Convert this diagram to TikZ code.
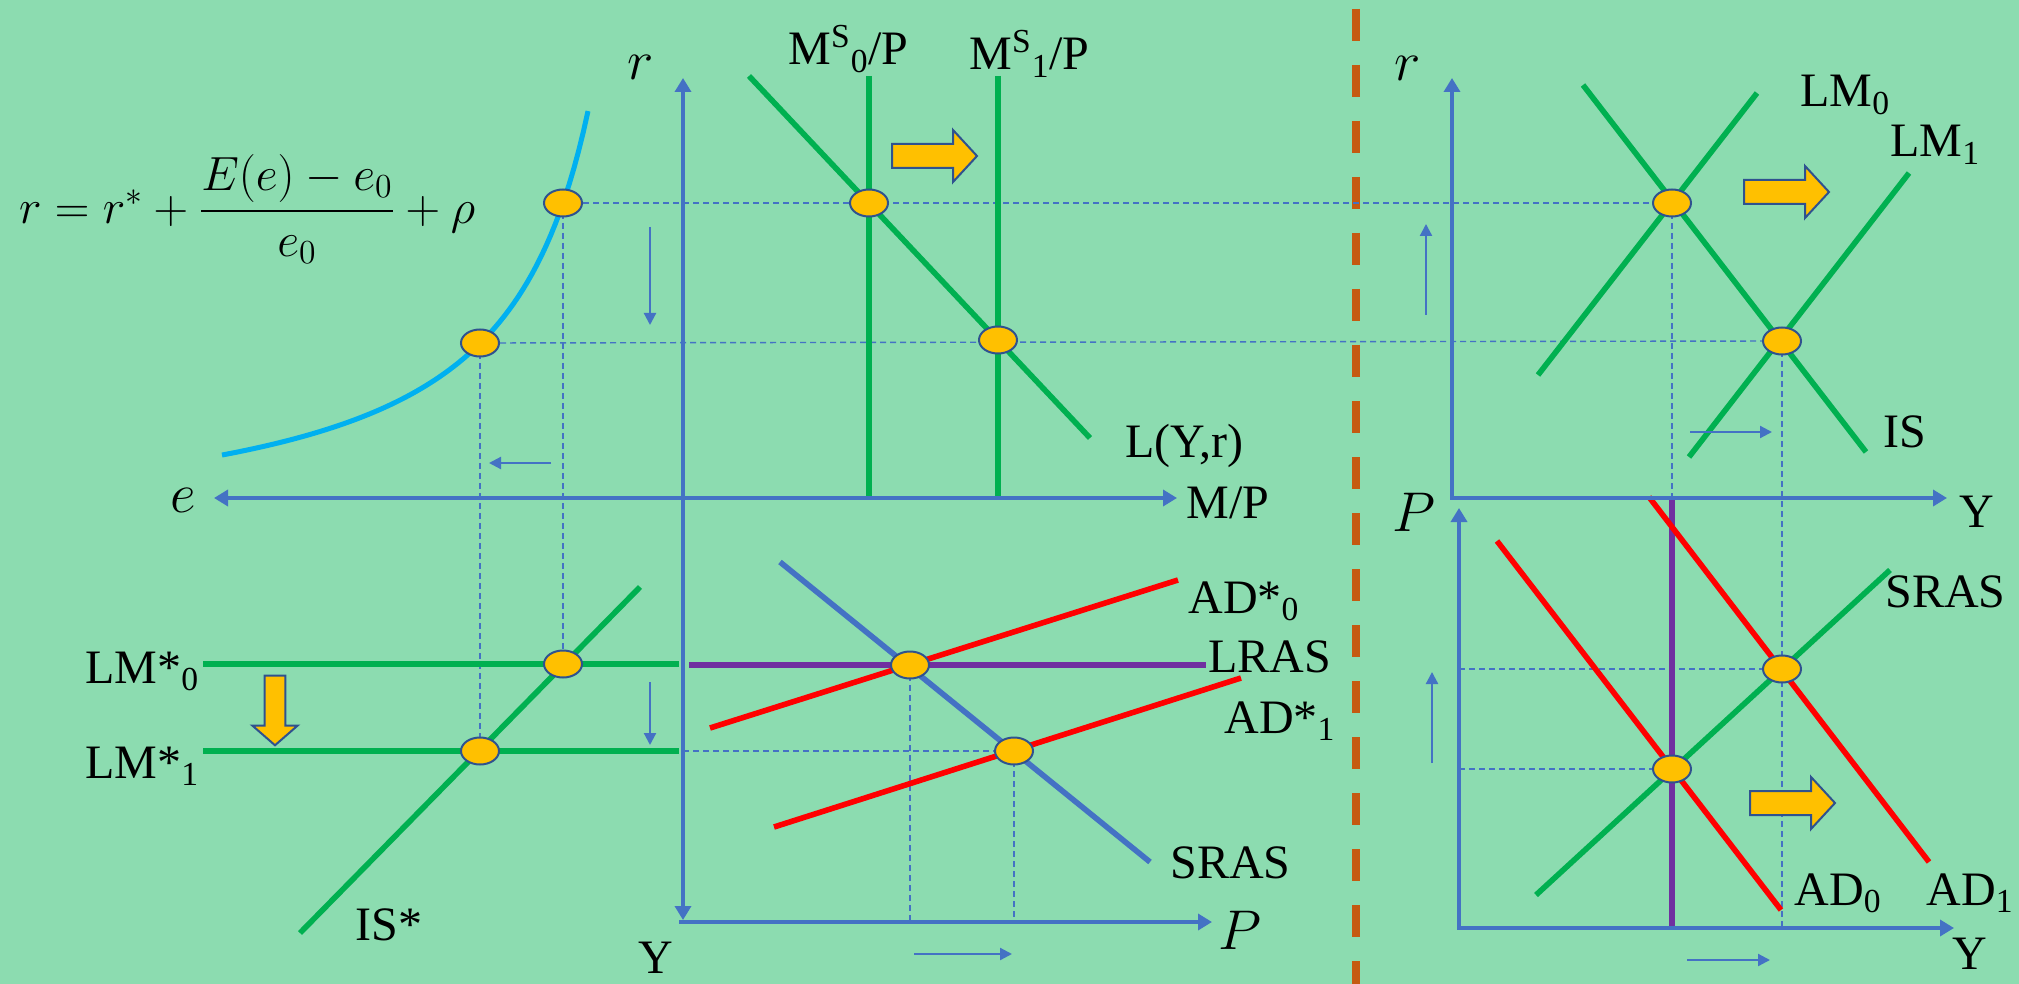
\RequirePackage{fix-cm}
\documentclass[tikz,border=0pt]{standalone}
\usepackage{amsmath}
\usepackage{fontspec}
\setmainfont{Liberation Serif}
\usetikzlibrary{arrows.meta,shapes.geometric}

\definecolor{lgreen}{HTML}{00B050}
\colorlet{bg}{lgreen!45!white}
\definecolor{axisblue}{HTML}{4472C4}
\definecolor{lred}{HTML}{FF0000}
\definecolor{lpurple}{HTML}{7030A0}
\definecolor{lcyan}{HTML}{00B0F0}
\definecolor{gold}{HTML}{FFC000}
\definecolor{rim}{HTML}{2F528F}
\definecolor{rust}{HTML}{C55A11}

\tikzset{
  axis/.style={axisblue, line width=2.2pt, -{Triangle[length=7pt,width=8pt]}},
  curve/.style={line width=2.8pt},
  guide/.style={axisblue, line width=0.7pt, dash pattern=on 3pt off 2pt},
  hint/.style={axisblue, line width=1.1pt, -{Triangle[length=6pt,width=6pt]}},
  dot/.style={ellipse, draw=rim, line width=1pt, fill=gold, minimum width=19pt, minimum height=13.5pt, inner sep=0pt},
  lbl/.style={anchor=base west, inner sep=0pt},
  mlbl/.style={font=\fontsize{28}{32}\selectfont},
  shiftarrow/.pic={\draw[rim, fill=gold, line width=1pt] (-42,-12) -- (19,-12) -- (19,-26) -- (43,0) -- (19,26) -- (19,12) -- (-42,12) -- cycle;}
}

\begin{document}
\begin{tikzpicture}[x=0.5pt, y=-0.5pt, font=\fontsize{24}{28}\selectfont]
    \fill[bg] (0,0) rectangle (2019,984);
    \useasboundingbox (0,0) rectangle (2019,984);

    % separator
    \draw[rust, line width=4pt, dash pattern=on 16pt off 12pt] (1356,9) -- (1356,984);

    % equilibrium points
    \coordinate (cE0) at (563,203);
    \coordinate (cE1) at (480,343);
    \coordinate (cM0) at (869,203);
    \coordinate (cM1) at (998,340);
    \coordinate (cL0) at (563,664);
    \coordinate (cL1) at (480,751);
    \coordinate (cA0) at (910,665);
    \coordinate (cA1) at (1014,751);
    \coordinate (cR0) at (1672,203);
    \coordinate (cR1) at (1782,341);
    \coordinate (cP0) at (1672,769);
    \coordinate (cP1) at (1782,669);

    % axis origins
    \coordinate (oL) at (683,498);
    \coordinate (oLB) at (683,922);
    \coordinate (oRT) at (1452,498);
    \coordinate (oRB) at (1459,928);

    % dashed guides
    \draw[guide] (cE0) -- (cR0);
    \draw[guide] (cE1) -- (cR1);
    \draw[guide] (cE0) -- (cL0);
    \draw[guide] (cE1) -- (cL1);
    \draw[guide] (oL |- cA1) -- (cA1);
    \draw[guide] (cA0) -- (cA0 |- oLB);
    \draw[guide] (cA1) -- (cA1 |- oLB);
    \draw[guide] (cR0) -- (cR0 |- oRT);
    \draw[guide] (cR1) -- (cR1 |- oRB);
    \draw[guide] (oRB |- cP1) -- (cP1);
    \draw[guide] (oRB |- cP0) -- (cP0);

    % left: interest parity curve
    \draw[lcyan, line width=2.5pt] plot[domain=222:588, samples=80] (\x, {541.5-396/((680-\x)/100)});

    % left: money market
    \draw[curve, lgreen] (869,76) -- (869,498);
    \draw[curve, lgreen] (998,76) -- (998,498);
    \draw[curve, lgreen] (749,76) -- (1090,438);

    % left: IS*-LM*
    \draw[curve, lgreen] (203,664) -- (679,664);
    \draw[curve, lgreen] (203,751) -- (679,751);
    \draw[curve, lgreen] (300,933) -- (640,587);

    % left: AD*-AS
    \draw[curve, lpurple] (689,665) -- (1206,665);
    \draw[curve, axisblue] (780,562) -- (1150,862);
    \draw[curve, lred] (710,728) -- (1178,580);
    \draw[curve, lred] (774,827) -- (1241,678);

    % right: IS-LM
    \draw[curve, lgreen] (1583,85) -- (1866,452);
    \draw[curve, lgreen] (1538,375) -- (1757,93);
    \draw[curve, lgreen] (1689,457) -- (1909,173);

    % right: AD-AS
    \draw[curve, lpurple] (1672,500) -- (1672,928);
    \draw[curve, lred] (1497,541) -- (1781,910);
    \draw[curve, lred] (1649,497) -- (1929,862);
    \draw[curve, lgreen] (1536,895) -- (1890,570);

    % axes
    \draw[axis] (oL) -- (683,78);
    \draw[axis] (oL) -- (683,920);
    \draw[axis] (679,922) -- (1212,922);
    \draw[axis, {Triangle[length=7pt,width=8pt]}-{Triangle[length=7pt,width=8pt]}] (214,498) -- (1177,498);
    \draw[axis] (oRT) -- (1452,78);
    \draw[axis] (1450,498) -- (1947,498);
    \draw[axis] (oRB) -- (1459,508);
    \draw[axis] (1457,928) -- (1954,928);

    % small direction arrows
    \draw[hint] (650,227) -- (650,325);
    \draw[hint] (551,463) -- (489,463);
    \draw[hint] (650,682) -- (650,745);
    \draw[hint] (914,954) -- (1012,954);
    \draw[hint] (1426,315) -- (1426,224);
    \draw[hint] (1690,432) -- (1772,432);
    \draw[hint] (1432,763) -- (1432,672);
    \draw[hint] (1687,960) -- (1770,960);

    % shift arrows
    \pic at (934,156) {shiftarrow};
    \pic at (1786,192) {shiftarrow};
    \pic at (1792,803) {shiftarrow};
    \pic[rotate=-90, xscale=0.82, yscale=0.87] at (275,710) {shiftarrow};

    % dots
    \foreach \p in {cE0,cE1,cM0,cM1,cL0,cL1,cA0,cA1,cR0,cR1,cP0,cP1}
        \node[dot] (d\p) at (\p) {};

    % formula
    \node[anchor=west] (rule) at (12,209) {$r = r^{*} + \dfrac{E(e)-e_0}{e_0} + \rho$};

    % axis labels
    \node[mlbl] (rL) at (641,67) {$r$};
    \node[mlbl] (eL) at (183,500) {$e$};
    \node (mp) at (1228,503) {M/P};
    \node[mlbl] (pL) at (1240,930) {$P$};
    \node (yL) at (656,958) {Y};
    \node[mlbl] (rR) at (1408,68) {$r$};
    \node[mlbl] (pR) at (1414,512) {$P$};
    \node (yRT) at (1977,512) {Y};
    \node[inner sep=0pt] (yRB) at (1970,954) {Y};

    % curve labels
    \node[lbl] (ms0) at (788,65) {M\textsuperscript{S}\textsubscript{0}/P};
    \node[lbl] (ms1) at (969,70) {M\textsuperscript{S}\textsubscript{1}/P};
    \node[lbl] (lyr) at (1125,457) {L(Y,r)};
    \node[lbl] (lm0s) at (85,683) {LM*\textsubscript{0}};
    \node[lbl] (lm1s) at (85,778) {LM*\textsubscript{1}};
    \node[lbl] (iss) at (355,940) {IS*};
    \node[lbl] (ad0s) at (1188,613) {AD*\textsubscript{0}};
    \node[lbl] (ad1s) at (1224,733) {AD*\textsubscript{1}};
    \node[lbl] (lras) at (1208,672) {LRAS};
    \node[lbl] (sras) at (1170,878) {SRAS};
    \node[lbl] (lm0) at (1800,107) {LM\textsubscript{0}};
    \node[lbl] (lm1) at (1890,157) {LM\textsubscript{1}};
    \node[lbl] (is) at (1883,447) {IS};
    \node[lbl] (sras2) at (1885,607) {SRAS};
    \node[lbl] (ad0) at (1794,905) {AD\textsubscript{0}};
    \node[lbl] (ad1) at (1926,905) {AD\textsubscript{1}};
\end{tikzpicture}
\end{document}
